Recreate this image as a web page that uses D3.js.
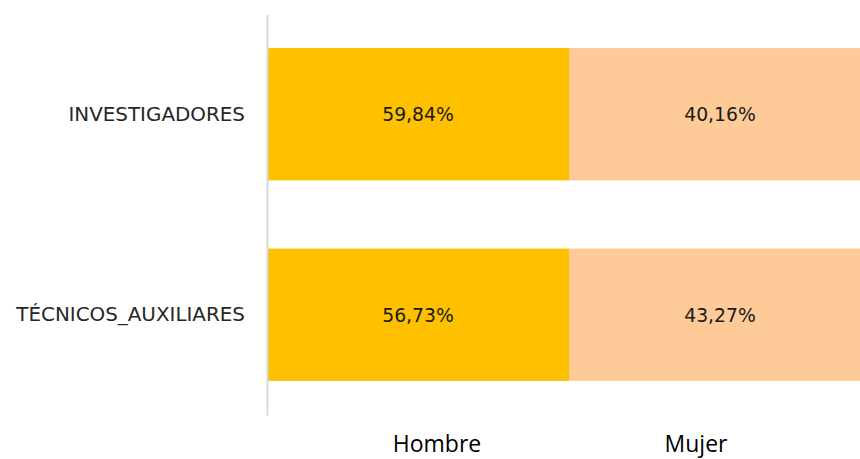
<!DOCTYPE html>
<html>

<head>
    <meta charset="utf-8">
    <title>hombre_mujer</title>
    <script src="https://d3js.org/d3.v7.min.js"></script>
    <style>
        body { margin: 0; background: #fff; }
    </style>
</head>

<body>
    <svg width="860" height="459" id="mainsvg"></svg>
    <script>
        // datos
        const categorias = ['INVESTIGADORES', 'TÉCNICOS_AUXILIARES'];
        const sexos = ['Hombre', 'Mujer'];
        const hombre = [59.84, 56.73];
        const mujer = [40.16, 43.27];
        const colores = ['#ffc000', '#fecb98'];

        const svg = d3.select('#mainsvg');

        // ejes
        const y = d3.scaleBand()
            .domain(categorias)
            .range([14, 415])
            .paddingInner(0.34)
            .paddingOuter(0.17);
        // cada sexo ocupa la misma columna (asi se ve en la imagen original)
        const x = d3.scaleBand()
            .domain(sexos)
            .range([267, 871]);
        const color = d3.scaleOrdinal().domain(sexos).range(colores);

        const filas = [];
        categorias.forEach((c, i) => {
            filas.push({ cat: c, sexo: 'Hombre', v: hombre[i] });
            filas.push({ cat: c, sexo: 'Mujer', v: mujer[i] });
        });

        const fmt = v => d3.format('.2f')(v).replace('.', ',') + '%';

        svg.append('g').selectAll('rect').data(filas)
            .enter().append('rect')
            .attr('x', d => x(d.sexo))
            .attr('y', d => y(d.cat))
            .attr('width', x.bandwidth())
            .attr('height', y.bandwidth())
            .attr('fill', d => color(d.sexo));

        svg.append('g').selectAll('text').data(filas)
            .enter().append('text')
            .attr('x', d => x(d.sexo) + x.bandwidth() / 2)
            .attr('y', d => y(d.cat) + y.bandwidth() / 2)
            .attr('dy', '0.36em')
            .attr('text-anchor', 'middle')
            .attr('font-family', 'DejaVu Sans')
            .attr('font-size', 18.8)
            .attr('fill', '#1a1a1a')
            .text(d => fmt(d.v));

        // eje vertical
        const yAxis = d3.axisLeft(y).tickSize(0).tickPadding(22);
        const ga = svg.append('g')
            .attr('transform', 'translate(267,0)')
            .call(yAxis);
        ga.select('.domain').attr('stroke', '#d9d9d9').attr('stroke-width', 2);
        ga.selectAll('text')
            .attr('font-family', 'DejaVu Sans')
            .attr('font-size', 19.9)
            .attr('fill', '#262626');

        // leyenda
        const leyendaX = [437, 696];
        svg.append('g').selectAll('text').data(sexos)
            .enter().append('text')
            .attr('x', (d, i) => leyendaX[i])
            .attr('y', 452)
            .attr('text-anchor', 'middle')
            .attr('font-family', 'Open Sans')
            .attr('font-size', 23)
            .attr('fill', '#000')
            .text(d => d);
    </script>
</body>

</html>
